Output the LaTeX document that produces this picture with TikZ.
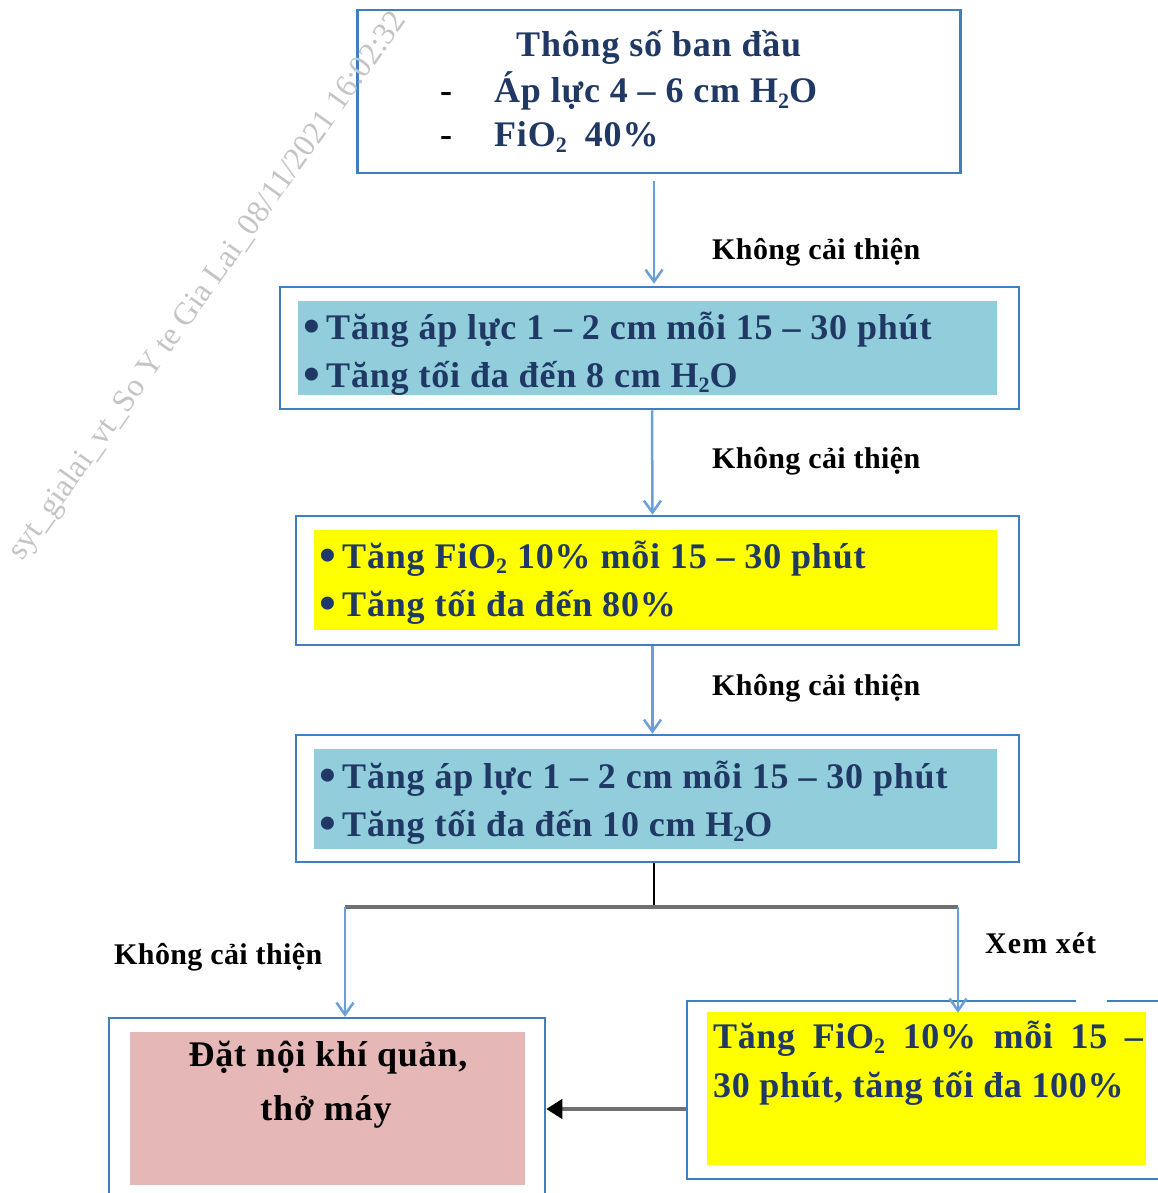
\documentclass[tikz,border=0pt]{standalone}
\usepackage{fontspec}
\usetikzlibrary{arrows.meta,calc}
\setmainfont{Liberation Serif}
\newfontfamily\wideserif[LetterSpace=2.3]{Liberation Serif}
\newfontfamily\labelserif[LetterSpace=1.3]{Liberation Serif}
\newfontfamily\xemserif[LetterSpace=3.5]{Liberation Serif}
\newfontfamily\yellowserif[LetterSpace=1.8]{Liberation Serif}
\definecolor{edgeblue}{HTML}{3F7FBF}
\definecolor{arrowblue}{HTML}{6A9FD8}
\definecolor{tealfill}{HTML}{92CDDC}
\definecolor{pinkfill}{HTML}{E5B7B7}
\definecolor{navytext}{HTML}{1F3864}
\definecolor{barline}{HTML}{707070}
\definecolor{wmark}{HTML}{C4C4C4}
\definecolor{pureyellow}{HTML}{FFFF00}
\tikzset{
  x=1pt,y=-1pt,
  framebox/.style={draw=edgeblue,line width=2.5pt,fill=none,inner sep=0pt,rectangle},
  fillbox/.style={draw=none,inner sep=0pt,rectangle},
  bodytext/.style={anchor=base west,inner sep=0pt,text=navytext,font=\wideserif\bfseries\fontsize{36}{36}\selectfont},
  yellowtext/.style={anchor=base west,inner sep=0pt,text=navytext,font=\yellowserif\bfseries\fontsize{36}{36}\selectfont},
  labeltext/.style={anchor=base west,inner sep=0pt,text=black,font=\labelserif\bfseries\fontsize{30}{30}\selectfont},
  xemtext/.style={anchor=base west,inner sep=0pt,text=black,font=\xemserif\bfseries\fontsize{30}{30}\selectfont},
  blackbody/.style={anchor=base,inner sep=0pt,text=black,font=\wideserif\bfseries\fontsize{36}{36}\selectfont},
  flow/.style={draw=arrowblue,line width=2.5pt,-{Straight Barb[length=12pt,width=17pt,line width=2.5pt]}},
  bar/.style={draw=barline,line width=4pt},
  stem/.style={draw=black,line width=2pt},
}
\newcommand{\lowtwo}{\raisebox{-0.16em}{\fontsize{22}{22}\selectfont 2}}
\newcommand{\bigdot}{\makebox[23pt][l]{\fontsize{48}{48}\selectfont\raisebox{-0.08em}{•}}}
\begin{document}
\begin{tikzpicture}
\useasboundingbox (0,0) rectangle (1158,1193);
% frames and fills
\node[framebox,minimum width=603pt,minimum height=163pt] (b1) at (659,91.5) {};
\node[framebox,minimum width=739pt,minimum height=122pt] (b2) at (649.5,348) {};
\node[fillbox,fill=tealfill,minimum width=699pt,minimum height=94pt] (f2) at (647.5,348) {};
\node[framebox,minimum width=723pt,minimum height=129pt] (b3) at (657.5,580.5) {};
\node[fillbox,fill=pureyellow,minimum width=683pt,minimum height=100pt] (f3) at (655.5,580) {};
\node[framebox,minimum width=723pt,minimum height=127pt] (b4) at (657.5,798.5) {};
\node[fillbox,fill=tealfill,minimum width=683pt,minimum height=100pt] (f4) at (655.5,799) {};
\node[framebox,minimum width=436pt,minimum height=190pt] (b5) at (327,1113) {};
\node[fillbox,fill=pinkfill,minimum width=395pt,minimum height=153pt] (f5) at (327.5,1108.5) {};
\node[framebox,minimum width=480pt,minimum height=178pt] (b6) at (927,1090) {};
\node[fillbox,fill=pureyellow,minimum width=439pt,minimum height=153pt] (f6) at (926.5,1088.5) {};
\fill[white] (1076,999) rectangle (1107,1004);
% connectors
\coordinate (j) at (654,907);
\coordinate (jl) at (345,907);
\coordinate (jr) at (958,907);
\draw[flow] ([xshift=-5pt,yshift=-7pt]b1.south) -- ([xshift=4.5pt,yshift=2pt]b2.north);
\draw[flow] ([xshift=2.5pt]b2.south) -- ([xshift=-5pt,yshift=0pt]b3.north);
\draw[flow] ([xshift=-5pt]b3.south) -- ([xshift=-5pt,yshift=0pt]b4.north);
\draw[stem] ([xshift=-3.5pt]b4.south) -- (j);
\draw[bar] (jl) -- (jr);
\draw[flow] (jl) -- (jl |- b5.north);
\draw[flow] (jr) -- ([yshift=-13pt]jr |- b6.north);
\draw[bar,{Triangle[length=16pt,width=19pt,black]}-] (b5.east |- 0,1109) -- (b6.west |- 0,1109);
% box 1 text
\node[bodytext] (t1) at (516,57) {Thông số ban đầu};
\node[bodytext,text=black] (d1) at (440,103) {-};
\node[bodytext] (t2) at (494,103) {Áp lực 4 – 6 cm H\lowtwo O};
\node[bodytext,text=black] (d2) at (440,147) {-};
\node[bodytext] (t3) at (494,147) {FiO\lowtwo\hspace{18pt}40\%};
% connector labels
\node[labeltext] (l1) at (712,259) {Không cải thiện};
\node[labeltext] (l2) at (712,468) {Không cải thiện};
\node[labeltext] (l3) at (712,695) {Không cải thiện};
\node[labeltext] (l4) at (114,964) {Không cải thiện};
\node[xemtext] (l5) at (985,953) {Xem xét};
% list boxes
\node[bodytext] (s1) at (303,339) {\bigdot Tăng áp lực 1 – 2 cm mỗi 15 – 30 phút};
\node[bodytext] (s2) at (303,387) {\bigdot Tăng tối đa đến 8 cm H\lowtwo O};
\node[bodytext] (s3) at (319,568) {\bigdot Tăng FiO\lowtwo{} 10\% mỗi 15 – 30 phút};
\node[bodytext] (s4) at (319,616) {\bigdot Tăng tối đa đến 80\%};
\node[bodytext] (s5) at (319,788) {\bigdot Tăng áp lực 1 – 2 cm mỗi 15 – 30 phút};
\node[bodytext] (s6) at (319,836) {\bigdot Tăng tối đa đến 10 cm H\lowtwo O};
% bottom boxes
\node[blackbody] (e1) at (328,1066) {Đặt nội khí quản,};
\node[blackbody] (e2) at (326,1120) {thở máy};
\node[yellowtext] (y1) at (713,1048) {Tăng\hspace{8pt} FiO\lowtwo\hspace{8pt} 10\%\hspace{8pt} mỗi\hspace{8pt} 15\hspace{8pt} –};
\node[yellowtext] (y2) at (713,1097) {30 phút, tăng tối đa 100\%};
% watermark
\node[anchor=base west,inner sep=0pt,rotate=54.6,text=wmark,font=\fontsize{32}{32}\selectfont] (wm) at (22,562) {syt\_gialai\_vt\_So Y te Gia Lai\_08/11/2021 16:02:32};
\end{tikzpicture}
\end{document}
